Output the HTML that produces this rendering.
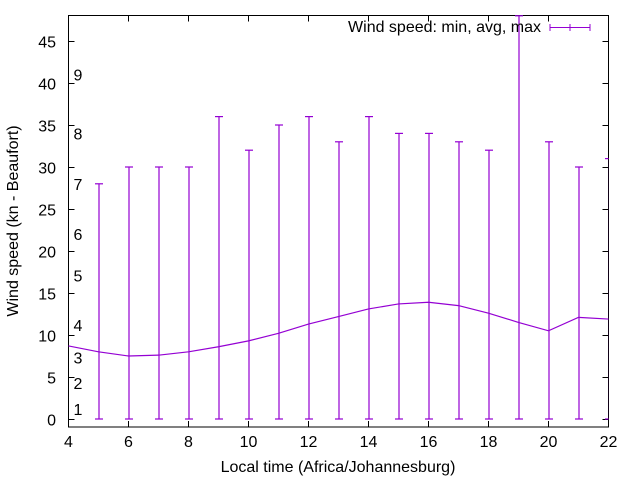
<!DOCTYPE html>
<html><head><meta charset="utf-8"><style>
body{margin:0;background:#fff}
svg text{font-family:"Liberation Sans",sans-serif;font-size:16px;fill:#000}
</style></head><body>
<svg id="c" width="640" height="480" xmlns="http://www.w3.org/2000/svg">
<defs><clipPath id="pc"><rect x="68.5" y="0" width="540" height="427"/></clipPath></defs>
<g id="axes"></g>
<g id="marks" clip-path="url(#pc)"></g>
<text x="338" y="472" text-anchor="middle">Local time (Africa/Johannesburg)</text>
<text transform="translate(18,221) rotate(-90)" text-anchor="middle">Wind speed (kn - Beaufort)</text>
<g>
<text x="541" y="32" text-anchor="end">Wind speed: min, avg, max</text>
<line x1="550" y1="27.5" x2="590" y2="27.5" stroke="#9400d3"/>
<line x1="550" y1="24" x2="550" y2="31" stroke="#9400d3"/>
<line x1="570" y1="24" x2="570" y2="31" stroke="#9400d3"/>
<line x1="590" y1="24" x2="590" y2="31" stroke="#9400d3"/>
</g>
</svg>
<script>
const hours=[4,5,6,7,8,9,10,11,12,13,14,15,16,17,18,19,20,21,22];
const minVals=[0,0,0,0,0,0,0,0,0,0,0,0,0,0,0,0,0,0,0];
const avgVals=[8.7,8,7.5,7.6,8,8.6,9.3,10.2,11.3,12.2,13.1,13.7,13.9,13.5,12.6,11.5,10.5,12.1,11.9];
const maxVals=[null,28,30,30,30,36,32,35,36,33,36,34,34,33,32,48,33,30,31];
const xTicks=[4,6,8,10,12,14,16,18,20,22];
const yTicks=[0,5,10,15,20,25,30,35,40,45];
const bftLabels=["1","2","3","4","5","6","7","8","9"];
const bftVals=[1.2,4.3,7.3,11.2,17.1,22,28,34,41];
const X=v=>68.5+(v-4)*30;
const Y=v=>419-v*8.4;
const NS="http://www.w3.org/2000/svg";
function mk(tag,attrs,parent,txt){const e=document.createElementNS(NS,tag);for(const k in attrs)e.setAttribute(k,attrs[k]);if(txt!=null)e.textContent=txt;parent.appendChild(e);return e;}
const ax=document.getElementById('axes'),mg=document.getElementById('marks');
const frame=mk('rect',{x:68.5,y:15.5,width:540,height:411.5,fill:'none',stroke:'#000'},ax);


xTicks.forEach(t=>{const x=X(t);
mk('line',{x1:x,y1:427,x2:x,y2:421,stroke:'#000'},ax);
mk('line',{x1:x,y1:15.5,x2:x,y2:21.5,stroke:'#000'},ax);
const l=mk('text',{x:x,y:447,'text-anchor':'middle'},ax,t);

});
yTicks.forEach(t=>{const y=Y(t)+0.5;
mk('line',{x1:68.5,y1:y,x2:74.5,y2:y,stroke:'#000'},ax);
mk('line',{x1:608.5,y1:y,x2:602.5,y2:y,stroke:'#000'},ax);
const l=mk('text',{x:56,y:y+6,'text-anchor':'end'},ax,t);

});
bftLabels.forEach((b,i)=>{const l=mk('text',{x:78,y:Y(bftVals[i])+6,'text-anchor':'middle'},ax,b);

});
hours.forEach((h,i)=>{if(maxVals[i]==null)return;const x=X(h)+0.5;
const g=mk('g',{stroke:'#9400d3','stroke-width':1.2},mg);


mk('line',{x1:x,y1:Y(minVals[i]),x2:x,y2:Y(maxVals[i])},g);
mk('line',{x1:x-4,y1:Y(minVals[i]),x2:x+4,y2:Y(minVals[i])},g);
mk('line',{x1:x-4,y1:Y(maxVals[i]),x2:x+4,y2:Y(maxVals[i])},g);});
const p=mk('polyline',{points:hours.map((h,i)=>X(h)+','+Y(avgVals[i])).join(' '),fill:'none',stroke:'#9400d3','stroke-width':1.2},mg);


</script>
</body></html>
